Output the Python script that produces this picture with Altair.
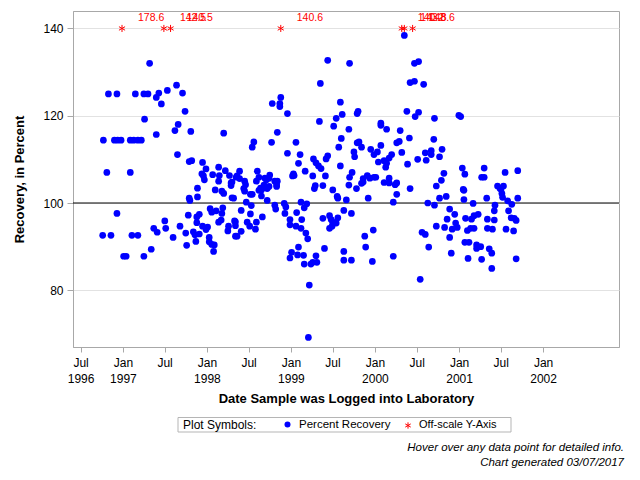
import altair as alt
import pandas as pd

FONT = "Liberation Sans"

# Percent-recovery samples: logged date (decimal year) and recovery (%)
sample_year = [
    1997.32, 1996.83, 1996.93, 1997.15, 1997.25, 1997.30, 1997.43, 1997.40, 1997.53, 1997.64, 1997.71,
    1997.46, 1997.74, 1997.26, 1997.66, 1997.62, 1997.81, 1998.20, 1997.40,
    1996.77, 1996.90, 1996.94, 1996.98, 1997.09, 1997.13, 1997.18, 1997.22,
    1997.65, 1997.79, 1997.82, 1997.95, 1996.81, 1997.09,
    1998.14, 1997.99, 1997.94, 1997.96, 1997.97, 1998.07, 1998.15, 1998.14, 1998.22, 1998.27, 1998.29, 1998.29, 1998.35,
    1997.89, 1998.10, 1998.18,
    1998.20, 1997.79, 1997.80, 1997.89, 1998.32, 1996.93,
    1998.04, 1998.06, 1998.11, 1998.18, 1998.19, 1998.17, 1998.14,
    1997.78, 1997.88, 1997.91, 1997.88, 1997.50, 1997.51, 1997.37, 1997.41, 1997.68, 1997.60,
    1996.76, 1996.86, 1997.11, 1997.18,
    1997.75, 1997.84, 1997.86, 1997.91, 1997.76, 1997.87, 1997.95, 1998.01, 1997.99,
    1998.03, 1998.03, 1998.06, 1998.09, 1998.08, 1998.25, 1998.26, 1998.34, 1998.34,
    1997.01, 1997.04, 1997.25, 1997.34,
    1999.44, 1999.70, 1999.35, 1998.88, 1998.78, 1998.87, 1998.87, 1998.96,
    1999.59, 1999.61, 1999.54, 1999.80, 1999.79, 1999.34, 1999.51, 1999.69, 1998.84,
    1998.56, 1998.54, 1998.77, 1999.06, 1999.60, 1999.57,
    1999.81, 1999.79, 1999.84, 1999.75, 1999.76, 1998.96, 1999.11, 1999.95, 1999.99,
    1999.44, 1999.42, 1999.27, 1999.30, 1999.33, 1999.36, 1999.09, 1999.59, 1999.17,
    1999.73, 1999.70, 1999.69, 1999.03, 1999.04, 1999.02, 1999.26, 1999.41,
    1999.91, 1999.94, 1999.86, 1999.84, 1999.99,
    1998.39, 1998.36, 1998.39, 1998.45, 1998.46, 1998.44, 1998.30,
    1998.60, 1998.62, 1998.59, 1998.64, 1998.68, 1998.71, 1998.74, 1998.75, 1998.69, 1998.81, 1998.83, 1998.84, 1998.72, 1998.62,
    1999.29, 1999.28, 1999.38, 1999.50, 1999.78, 1999.86,
    1998.30, 1998.41, 1998.47, 1998.53, 1998.52, 1998.33, 1998.34, 1998.36, 1998.41, 1998.48, 1998.51, 1998.58, 1998.59,
    1998.66, 1998.52, 1998.45, 1998.54, 1998.65, 1998.65, 1998.72, 1998.70, 1998.74, 1998.83,
    1998.81, 1998.82, 1998.92, 1998.94, 1998.93, 1998.99, 1998.99, 1999.06, 1999.12, 1999.07, 1999.13, 1999.12,
    1999.16, 1999.19, 1999.18, 1999.20,
    1999.55, 1999.56, 1999.66, 1999.92,
    1999.63, 1999.72, 1999.38, 1999.46, 1999.48, 1999.56, 1999.50, 1999.54, 1999.46, 1999.49,
    1999.98, 1999.88, 1999.89, 1999.97,
    1999.09, 1999.01, 1998.99, 1999.08, 1999.15, 1999.30, 1999.16, 1999.24, 1999.26, 1999.31, 1999.40,
    1999.63, 1999.63, 1999.72, 1999.22, 1999.21,
    2000.35, 2000.47, 2000.52, 2000.42, 2000.47, 2000.58,
    2000.38, 2000.48, 2000.52, 2000.71, 2001.00, 2001.02,
    2000.07, 2000.07, 2000.14, 2000.30, 2000.41, 2000.70,
    2000.29, 2000.26, 2000.07, 2000.03, 2000.20, 2000.17, 2000.32,
    2000.60, 2000.67, 2000.67, 2000.80, 2000.77, 2000.51, 2000.61,
    2000.04, 2000.11, 2000.13, 2000.14, 2000.39,
    2000.01, 2000.11, 2000.17, 2000.17, 2000.24, 2000.26,
    2000.42, 2000.73, 2000.79, 2000.82,
    2001.04, 2001.07, 2001.30, 2001.27, 2001.30, 2001.55, 2001.70,
    2001.46, 2001.53, 2001.49, 2001.05,
    2000.26, 2000.22, 2000.22, 2000.54, 2000.56, 2000.60, 2000.64,
    2000.63, 2000.71, 2000.77, 2000.85,
    2000.89, 2000.95, 2000.86, 2000.83, 2000.73, 2000.96, 2000.92, 2000.98, 2000.89, 2000.91,
    2001.06, 2001.06, 2001.17, 2001.08, 2001.15, 2001.18, 2001.23, 2001.14, 2001.10, 2001.18,
    2001.07, 2001.12, 2001.21, 2001.21, 2001.26, 2001.11, 2001.27, 2001.36, 2001.39, 2001.39,
    2001.33, 2001.43, 2001.42, 2001.42, 2001.34, 2001.34, 2001.40,
    2001.50, 2001.51, 2001.52, 2001.58, 2001.63, 2001.59, 2001.62, 2001.66, 2001.68, 2001.56, 2001.65, 2001.70, 2001.68,
]
recovery = [
    132.0, 125.0, 125.0, 125.0, 125.0, 125.0, 125.2, 124.2, 125.8, 127.0, 125.2,
    122.7, 121.0, 119.2, 118.0, 116.6, 116.4, 116.0, 115.7,
    114.4, 114.4, 114.4, 114.4, 114.4, 114.4, 114.4, 114.4,
    111.1, 109.5, 109.7, 109.3, 107.0, 107.0,
    108.2, 107.8, 106.7, 106.2, 105.3, 106.5, 106.3, 105.0, 107.4, 106.3, 104.6, 104.0, 105.9,
    103.4, 103.0, 102.7,
    102.2, 101.1, 100.6, 101.4, 101.1, 97.6,
    98.7, 97.9, 98.2, 97.6, 98.9, 96.1, 95.6,
    97.2, 96.8, 97.4, 95.5, 95.9, 94.2, 94.2, 93.3, 94.7, 92.1,
    92.6, 92.6, 92.6, 92.6,
    93.1, 93.4, 92.7, 92.9, 90.3, 91.2, 94.7, 94.5, 93.9,
    92.1, 91.1, 90.5, 90.4, 88.9, 93.6, 94.7, 95.7, 92.4,
    87.8, 87.8, 87.8, 89.4,
    132.7, 132.0, 127.4, 124.2, 122.8, 122.8, 122.1, 120.5,
    123.1, 120.3, 119.4, 121.0, 120.5, 118.7, 117.6, 116.9, 116.2,
    114.0, 112.8, 113.9, 113.9, 114.8, 112.8,
    114.0, 113.8, 112.8, 111.7, 110.6, 111.4, 111.1, 112.3, 111.1,
    110.8, 110.1, 110.1, 109.2, 108.5, 107.9, 109.1, 108.5, 107.3,
    107.0, 105.9, 104.1, 106.7, 106.3, 106.2, 106.2, 106.2,
    106.3, 105.7, 105.6, 104.5, 105.9,
    107.3, 106.2, 105.6, 105.0, 104.2, 103.3, 104.8,
    107.3, 105.9, 105.0, 103.4, 104.1, 105.3, 105.7, 106.4, 105.7, 105.0, 104.2, 105.0, 103.3, 102.9,
    104.0, 103.3, 104.0, 103.0, 103.3, 104.8,
    101.2, 98.3, 100.2, 99.4, 97.5, 95.9, 94.8, 92.4, 93.5, 95.6, 94.7, 94.0, 95.6,
    96.8, 102.0, 102.7, 102.0, 103.0, 101.6, 100.6, 103.5, 103.8, 103.8,
    99.5, 98.6, 99.9, 99.1, 97.6, 96.2, 95.0, 94.7, 94.2, 97.8, 96.2, 100.2,
    98.9, 99.8, 93.1, 91.8,
    101.5, 101.1, 100.7, 101.1,
    98.3, 97.6, 96.5, 97.1, 96.2, 96.6, 95.6, 95.4, 94.2, 94.7,
    93.8, 92.4, 89.9, 86.6,
    89.9, 88.7, 87.4, 88.1, 88.0, 87.9, 86.0, 86.0, 86.4, 86.4, 89.6,
    88.9, 86.9, 86.9, 81.2, 69.2,
    138.4, 132.0, 132.4, 127.6, 127.9, 127.2,
    121.0, 119.8, 120.8, 119.4, 120.1, 119.8,
    118.3, 117.8, 116.9, 116.6, 114.9, 114.6,
    114.1, 113.8, 113.2, 111.7, 111.1, 110.3, 111.6,
    111.5, 112.0, 111.1, 112.3, 110.6, 110.0, 109.8,
    109.4, 109.7, 108.2, 109.1, 108.9,
    105.9, 104.7, 105.7, 104.6, 104.2, 104.6,
    103.3, 103.9, 105.2, 106.8,
    108.0, 106.6, 108.0, 105.9, 105.9, 107.0, 107.4,
    103.9, 103.9, 103.3, 103.1,
    102.0, 100.2, 87.8, 82.5, 93.3, 92.8, 89.9,
    100.0, 99.5, 101.1, 101.5,
    98.6, 97.4, 96.3, 94.4, 94.7, 95.4, 94.0, 94.4, 92.1, 88.5,
    102.9, 100.8, 99.9, 96.5, 96.3, 97.1, 97.4, 94.2, 93.7, 94.2,
    91.0, 91.0, 90.4, 89.6, 90.0, 87.3, 87.1, 89.5, 88.5, 85.0,
    101.1, 99.5, 98.2, 96.1, 96.3, 94.2, 94.0,
    103.2, 102.2, 101.3, 100.5, 99.7, 98.2, 96.6, 96.5, 96.0, 94.0, 93.6, 101.1, 87.2,
]

# Off-scale samples (drawn at the 140 line, labelled with the true value)
off_year = [1996.99, 1997.49, 1997.57, 1998.88, 2000.32, 2000.35, 2000.45]
off_value = [178.6, 142.5, 140.5, 140.6, 140.2, 143.8, 148.6]
off_cap = 140

ref_value = [100]
y_ticks = [80, 100, 120, 140]


def to_date(y):
    return (pd.Timestamp("1996-01-01") + pd.to_timedelta(round((y - 1996) * 365.25), unit="D")).strftime("%Y-%m-%d")


pts = pd.DataFrame({"date": [to_date(v) for v in sample_year], "recovery": recovery})
off = pd.DataFrame({
    "date": [to_date(v) for v in off_year],
    "value": off_value,
    "plotted": [min(v, off_cap) for v in off_value],
    "label": [f"{v:.1f}" for v in off_value],
})
ref = pd.DataFrame({"v": ref_value})

x_ticks = [alt.DateTime(year=1996, month=7, date=1)]
for yr in range(1997, 2003):
    x_ticks.append(alt.DateTime(year=yr, month=1, date=1))
    if yr < 2002:
        x_ticks.append(alt.DateTime(year=yr, month=7, date=1))

x_scale = alt.Scale(domain=[alt.DateTime(year=1996, month=5, date=29),
                            alt.DateTime(year=2002, month=11, date=27)])
y_scale = alt.Scale(domain=[67, 144], nice=False, zero=False)

x_axis = alt.Axis(
    values=x_ticks,
    title="Date Sample was Logged into Laboratory",
    labelExpr="(month(datum.value) == 0 || year(datum.value) == 1996) ? [timeFormat(datum.value, '%b'), timeFormat(datum.value, '%Y')] : timeFormat(datum.value, '%b')",
    labelLineHeight=16,
    grid=False, tickSize=5, labelPadding=5, titlePadding=8,
    labelFontSize=12, titleFontSize=13, titleFontWeight="bold",
)
y_axis = alt.Axis(
    values=y_ticks, title="Recovery, in Percent", grid=True, gridColor="#E2E2E2",
    tickSize=6, labelPadding=4, titlePadding=16,
    labelFontSize=12, titleFontSize=13, titleFontWeight="bold",
)

x_enc = alt.X("date:T", scale=x_scale, axis=x_axis)

ref_rule = alt.Chart(ref).mark_rule(color="black", strokeWidth=1).encode(y=alt.Y("v:Q", scale=y_scale, axis=y_axis))

points = alt.Chart(pts).mark_circle(size=45, color="#0000FF", opacity=1).encode(
    x=x_enc,
    y=alt.Y("recovery:Q", scale=y_scale, axis=y_axis),
    tooltip=["date:T", "recovery:Q"],
)

ASTER = "M0,-1L0,1M-0.866,-0.5L0.866,0.5M-0.866,0.5L0.866,-0.5"

off_pts = alt.Chart(off).mark_point(shape=ASTER, size=50, color="#FF0000", strokeWidth=1, filled=False, opacity=1).encode(
    x=alt.X("date:T", scale=x_scale), y=alt.Y("plotted:Q", scale=y_scale),
    tooltip=["date:T", "value:Q"],
)
off_lbl = alt.Chart(off).mark_text(color="#FF0000", font=FONT, fontSize=10.5, align="left", dx=16, dy=-10).encode(
    x=alt.X("date:T", scale=x_scale), y=alt.Y("plotted:Q", scale=y_scale), text="label:N",
)

one = pd.DataFrame({"k": [0]})
box = alt.Chart(one).mark_rect(fill="white", stroke="#B5B5B5", strokeWidth=1).encode(
    x=alt.value(105), x2=alt.value(438), y=alt.value(406.5), y2=alt.value(421))
t_ps = alt.Chart(one).mark_text(text="Plot Symbols:", font=FONT, fontSize=12, align="left", baseline="middle", color="black").encode(
    x=alt.value(110), y=alt.value(414))
dot = alt.Chart(one).mark_circle(size=36, color="#0000FF", opacity=1).encode(x=alt.value(214.5), y=alt.value(413.5))
t_pr = alt.Chart(one).mark_text(text="Percent Recovery", font=FONT, fontSize=11.5, align="left", baseline="middle", color="black").encode(
    x=alt.value(226), y=alt.value(414))
ast = alt.Chart(one).mark_point(shape=ASTER, size=40, color="#FF0000", filled=False, strokeWidth=1, opacity=1).encode(
    x=alt.value(335), y=alt.value(414.5))
t_os = alt.Chart(one).mark_text(text="Off-scale Y-Axis", font=FONT, fontSize=11, align="left", baseline="middle", color="black").encode(
    x=alt.value(346), y=alt.value(414))
f1 = alt.Chart(one).mark_text(text="Hover over any data point for detailed info.", font=FONT, fontSize=11.5, fontStyle="italic",
                              align="right", baseline="middle", color="black").encode(x=alt.value(551), y=alt.value(437))
f2 = alt.Chart(one).mark_text(text="Chart generated 03/07/2017", font=FONT, fontSize=11.5, fontStyle="italic",
                              align="right", baseline="middle", color="black").encode(x=alt.value(551), y=alt.value(452))

chart = alt.layer(ref_rule, points, off_pts, off_lbl, box, t_ps, dot, t_pr, ast, t_os, f1, f2).properties(
    width=546, height=336,
    autosize=alt.AutoSizeParams(type="none"),
    padding={"left": 65, "top": 3, "right": 13, "bottom": 121},
).configure(font=FONT).configure_view(stroke="#A8A8A8", strokeWidth=1).configure_axis(
    domainColor="#A8A8A8", tickColor="#A8A8A8", labelColor="black", titleColor="black", labelFont=FONT, titleFont=FONT,
)

chart.save("out.html", embed_options={"renderer": "svg", "actions": False})
